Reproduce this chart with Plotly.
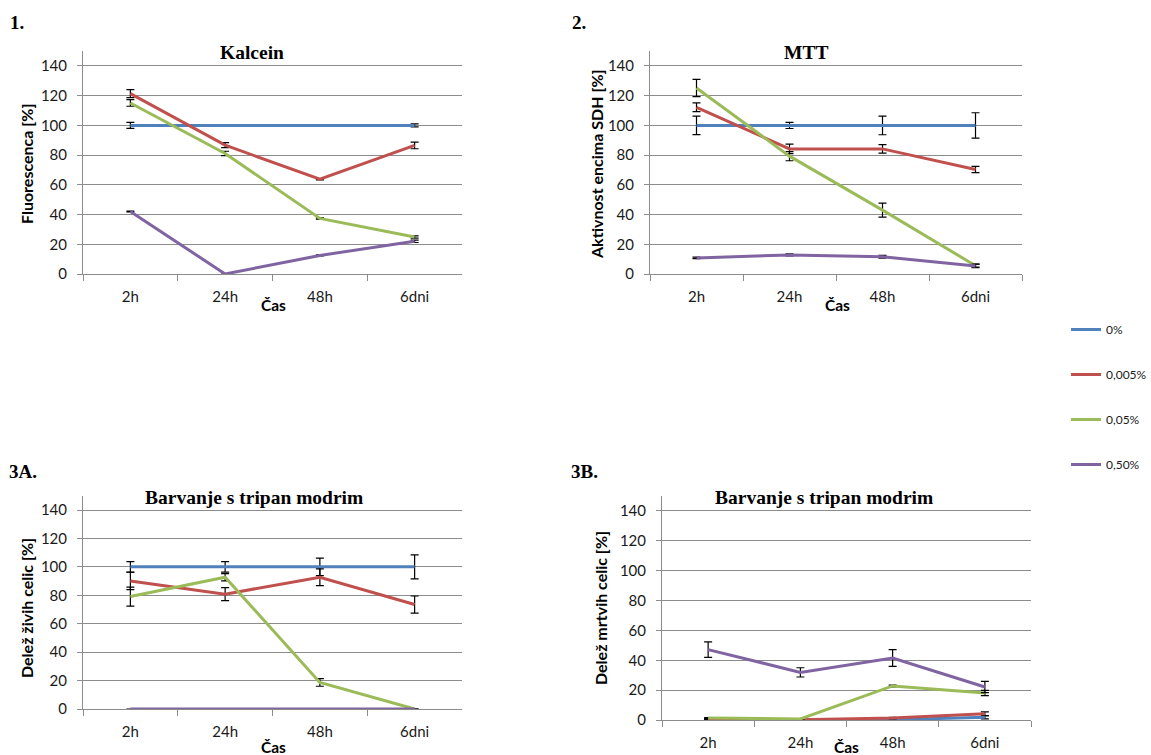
import plotly.graph_objects as go

categories = ["2h", "24h", "48h", "6dni"]
series_names = ["0%", "0,005%", "0,05%", "0,50%"]
series_colors = ["#4F81BD", "#C0504D", "#9BBB59", "#8064A2"]
y_ticks = [0, 20, 40, 60, 80, 100, 120, 140]

# Panel 1: Kalcein
kal_vals = [
    [100, 100, 100, 100],
    [121.4, 86.7, 63.8, 86.5],
    [115.1, 81.1, 37.4, 24.9],
    [42.1, 0, 12.5, 22.0],
]
kal_err = [
    [2.0, 0, 0.4, 1.0],
    [2.7, 1.7, 0.4, 2.2],
    [2.2, 1.5, 0.5, 0.8],
    [0.3, 0, 0.4, 0.8],
]

# Panel 2: MTT
mtt_vals = [
    [100, 100, 100, 100],
    [112.2, 84.2, 84.2, 70.3],
    [125.2, 79.3, 43.0, 5.6],
    [10.8, 12.8, 11.6, 5.4],
]
mtt_err = [
    [6.2, 2.1, 6.3, 8.5],
    [2.9, 3.2, 2.8, 2.1],
    [5.8, 3.1, 4.7, 1.0],
    [0.5, 0.7, 1.0, 1.2],
]

# Panel 3A: live cells
live_vals = [
    [100, 100, 100, 100],
    [90.1, 80.8, 92.7, 73.5],
    [79.1, 92.7, 18.7, 0],
    [0, 0, 0, 0],
]
live_err = [
    [3.7, 3.7, 6.2, 8.5],
    [6.1, 4.6, 5.9, 6.0],
    [6.7, 2.5, 2.7, 0],
    [0, 0, 0, 0],
]

# Panel 3B: dead cells
dead_vals = [
    [0.2, 0, 0.2, 1.8],
    [0.3, 0.2, 1.3, 4.2],
    [1.3, 0.7, 22.8, 18.1],
    [47.1, 31.9, 41.5, 22.1],
]
dead_err = [
    [0.3, 0, 0.3, 1.0],
    [0.3, 0.2, 0.5, 1.2],
    [0.3, 0.3, 0.6, 1.8],
    [5.2, 3.1, 5.6, 3.8],
]

W, H = 1151, 755

def fx(px):
    return px / W

def fy(py):
    return 1 - py / H

panels = [
    # (vals, errs, xdom px, y0 px, y150 px)
    (kal_vals, kal_err, (83, 462), 274, 51.1),
    (mtt_vals, mtt_err, (650, 1022), 274, 51.1),
    (live_vals, live_err, (83, 462), 709, 495.8),
    (dead_vals, dead_err, (662, 1031), 720, 496),
]

fig = go.Figure()
grid = "#8C8C8C"
tickfont = dict(family="Lato", size=15, color="#1a1a1a")

for pi, (vals, errs, (xa, xb), y0, y150) in enumerate(panels):
    n = "" if pi == 0 else str(pi + 1)
    for si in range(4):
        fig.add_trace(go.Scatter(
            x=categories, y=vals[si],
            mode="lines",
            name=series_names[si],
            legendgroup=series_names[si],
            showlegend=(pi == 0),
            line=dict(color=series_colors[si], width=3),
            error_y=dict(type="data", array=errs[si], visible=True,
                         color="black", thickness=1.2, width=4),
            xaxis="x" + n, yaxis="y" + n,
        ))
    xkey = "xaxis" + n
    ykey = "yaxis" + n
    fig.layout[xkey] = dict(
        domain=[fx(xa), fx(xb)], anchor="y" + n, automargin=False,
        type="category", categoryorder="array", categoryarray=categories,
        range=[-0.5, 3.5], showgrid=False, showline=True, linecolor=grid,
        linewidth=1, ticks="outside", tickson="boundaries", ticklen=6,
        tickcolor=grid, tickfont=tickfont, ticklabelstandoff=9, fixedrange=True,
    )
    fig.layout[ykey] = dict(
        domain=[fy(y0), fy(y150)], anchor="x" + n, automargin=False,
        range=[0, 150], tickvals=y_ticks, showgrid=True, gridcolor=grid,
        gridwidth=1, showline=True, linecolor=grid, linewidth=1,
        ticks="outside", ticklen=5, tickcolor=grid, tickfont=tickfont,
        zeroline=False, ticklabelstandoff=7, fixedrange=True,
    )

ann = []
def text(x, y, s, size, family, bold=True, angle=0, xanchor="center"):
    ann.append(dict(
        x=fx(x), y=fy(y), xref="paper", yref="paper", text=("<b>%s</b>" % s) if bold else s,
        showarrow=False, textangle=angle, xanchor=xanchor, yanchor="middle",
        font=dict(family=family, size=size, color="black"),
    ))

serif = "Liberation Serif"
sans = "Lato"
# panel labels
text(8, 23, "1.", 19, serif, xanchor="left")
text(570, 23, "2.", 19, serif, xanchor="left")
text(7, 471, "3A.", 19, serif, xanchor="left")
text(569, 472, "3B.", 19, serif, xanchor="left")
# titles
text(252, 52, "Kalcein", 19.5, serif)
text(806, 52, "MTT", 19.5, serif)
text(254, 497, "Barvanje s tripan modrim", 19.5, serif)
text(824, 497, "Barvanje s tripan modrim", 19.5, serif)
# axis titles
text(273, 305, "Čas", 15.5, sans)
text(837, 305, "Čas", 15.5, sans)
text(273, 747, "Čas", 15.5, sans)
text(846, 747, "Čas", 15.5, sans)
text(27, 164, "Fluorescenca [%]", 16, sans, angle=-90)
text(597, 164, "Aktivnost encima SDH [%]", 16, sans, angle=-90)
text(26, 608, "Delež živih celic [%]", 16, sans, angle=-90)
text(600, 608, "Delež mrtvih celic [%]", 16, sans, angle=-90)

fig.update_layout(
    width=W, height=H,
    margin=dict(l=0, r=0, t=0, b=0, autoexpand=False),
    paper_bgcolor="white", plot_bgcolor="white",
    annotations=ann,
    legend=dict(
        x=fx(1066), y=fy(315), xanchor="left", yanchor="top",
        traceorder="grouped", tracegroupgap=26,
        font=dict(family=sans, size=12, color="#1a1a1a"),
        bgcolor="rgba(0,0,0,0)", itemwidth=30,
    ),
)

css_fix = (
    "var s=document.createElement('style');"
    "s.innerHTML='html,body{margin:0;padding:0;overflow:hidden;width:1151px;height:755px;}"
    ".plotly-graph-div{display:block;}';"
    "document.head.appendChild(s);"
)
fig.write_html("out.html", post_script=css_fix, config={"displayModeBar": False})
